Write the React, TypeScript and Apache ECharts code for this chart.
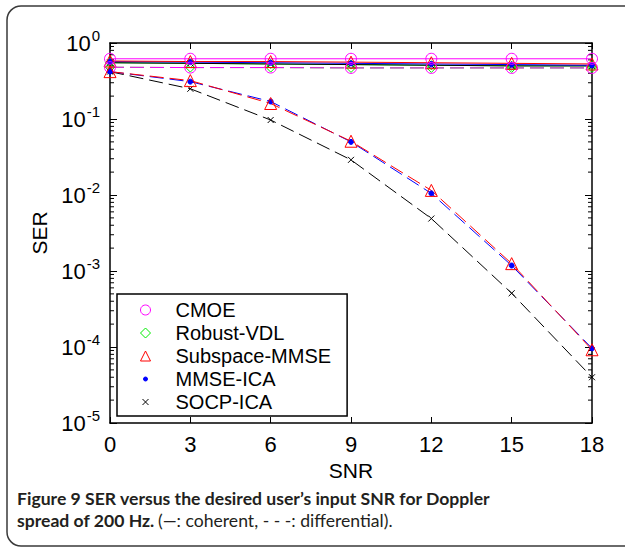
import React, { useEffect, useRef } from "react";
import * as echarts from "echarts";

// SNR (dB) sample points
const snr = [0, 3, 6, 9, 12, 15, 18];

// Coherent detection (solid lines)
const cmoeCoherent = [0.62, 0.62, 0.62, 0.62, 0.62, 0.62, 0.62];
const robustVdlCoherent = [0.55, 0.54, 0.53, 0.52, 0.51, 0.5, 0.5];
const subspaceCoherent = [0.58, 0.57, 0.57, 0.56, 0.55, 0.54, 0.53];
const mmseIcaCoherent = [0.57, 0.56, 0.55, 0.54, 0.53, 0.52, 0.51];
const socpIcaCoherent = [0.55, 0.54, 0.53, 0.52, 0.51, 0.5, 0.5];

// Differential detection (dashed lines)
const cmoeDifferential = [0.48, 0.475, 0.475, 0.47, 0.47, 0.47, 0.47];
const robustVdlDifferential = [0.48, 0.475, 0.475, 0.47, 0.47, 0.47, 0.47];
const subspaceDifferential = [0.42, 0.32, 0.16, 0.051, 0.0115, 0.00125, 0.000092];
const mmseIcaDifferential = [0.42, 0.31, 0.17, 0.05, 0.0105, 0.00118, 0.000096];
const socpIcaDifferential = [0.42, 0.25, 0.097, 0.029, 0.0049, 0.00051, 0.00004];

const legendNames = ["CMOE", "Robust-VDL", "Subspace-MMSE", "MMSE-ICA", "SOCP-ICA"];

// log-axis minor tick values (2..9 x 10^k)
const minorTickValues: number[] = [];
for (let k = -5; k < 0; k++) {
  for (let m = 2; m <= 9; m++) minorTickValues.push(m * Math.pow(10, k));
}

const FONT = "'Liberation Sans', Arial, Helvetica, sans-serif";
const CAPTION_FONT = "Lato, 'Open Sans', sans-serif";
const CROSS = "path://M0,0L10,10M10,0L0,10";
const DOT_ICON = "path://M0,0M10,10M3,5A2,2 0 1,0 7,5A2,2 0 1,0 3,5Z";

type Style = {
  color: string;
  symbol: string;
  size: number;
  hollow: boolean;
};

const styles: Record<string, Style> = {
  CMOE: { color: "#ff00ff", symbol: "circle", size: 11, hollow: true },
  "Robust-VDL": { color: "#00ee00", symbol: "diamond", size: 9, hollow: true },
  "Subspace-MMSE": { color: "#ff0000", symbol: "triangle", size: 12, hollow: true },
  "MMSE-ICA": { color: "#0000ff", symbol: "circle", size: 5, hollow: false },
  "SOCP-ICA": { color: "#000000", symbol: CROSS, size: 6, hollow: false },
};

function lineSeries(name: string, values: number[], dashed: boolean) {
  const s = styles[name];
  return {
    name,
    type: "line",
    data: snr.map((x, i) => [x, values[i]]),
    symbol: s.symbol,
    symbolSize: s.size,
    showAllSymbol: true,
    itemStyle: {
      color: s.hollow ? "transparent" : s.color,
      borderColor: s.color,
      borderWidth: 1,
    },
    lineStyle: {
      color: s.color,
      width: 1,
      type: dashed ? [14, 6] : "solid",
    },
    emphasis: { disabled: true },
    z: 3,
  };
}

export default function App() {
  const ref = useRef<HTMLDivElement>(null);

  useEffect(() => {
    if (!ref.current) return;
    const chart = echarts.init(ref.current, undefined, { renderer: "svg" });

    const yLabel = {
      show: true,
      margin: 10,
      formatter: (v: number) => `{b|10}{s|${Math.round(Math.log10(v))}}`,
      rich: {
        b: { fontSize: 22, fontFamily: FONT, color: "#000" },
        s: { fontSize: 15, fontFamily: FONT, color: "#000", padding: [0, 0, 16, 1] },
      },
    };

    const option: any = {
      animation: false,
      backgroundColor: "#fff",
      grid: { left: 110, top: 43, width: 482, height: 380, containLabel: false },
      xAxis: [
        {
          type: "value",
          min: 0,
          max: 18,
          interval: 3,
          name: "SNR",
          nameLocation: "middle",
          nameGap: 30,
          nameTextStyle: { fontSize: 21, fontFamily: FONT, color: "#000" },
          axisLine: { show: true, onZero: false, lineStyle: { color: "#000", width: 1.5 } },
          axisTick: { show: true, inside: true, length: 6, lineStyle: { color: "#000" } },
          axisLabel: { fontSize: 22, fontFamily: FONT, color: "#000", margin: 10 },
          splitLine: { show: false },
        },
        {
          type: "value",
          position: "top",
          min: 0,
          max: 18,
          interval: 3,
          axisLine: { show: true, onZero: false, lineStyle: { color: "#000", width: 1.5 } },
          axisTick: { show: true, inside: true, length: 6, lineStyle: { color: "#000" } },
          axisLabel: { show: false },
          splitLine: { show: false },
        },
      ],
      yAxis: [
        {
          type: "log",
          logBase: 10,
          min: 1e-5,
          max: 1,
          splitNumber: 5,
          name: "SER",
          nameLocation: "middle",
          nameGap: 54,
          nameTextStyle: { fontSize: 21, fontFamily: FONT, color: "#000" },
          axisLine: { show: true, onZero: false, lineStyle: { color: "#000", width: 1.5 } },
          axisTick: { show: true, inside: true, length: 7, lineStyle: { color: "#000" } },
          axisLabel: yLabel,
          splitLine: { show: false },
        },
        {
          type: "log",
          logBase: 10,
          min: 1e-5,
          max: 1,
          splitNumber: 5,
          position: "right",
          axisLine: { show: true, onZero: false, lineStyle: { color: "#000", width: 1.5 } },
          axisTick: { show: true, inside: true, length: 7, lineStyle: { color: "#000" } },
          axisLabel: { show: false },
          splitLine: { show: false },
        },
      ],
      legend: {
        orient: "vertical",
        left: 117,
        top: 294,
        padding: [6, 16, 4, 23],
        itemWidth: 10,
        itemHeight: 10,
        itemGap: 3,
        borderColor: "#000",
        borderWidth: 1.5,
        backgroundColor: "#fff",
        selectedMode: false,
        formatter: (name: string) => `{n|${name}}`,
        textStyle: {
          rich: { n: { fontSize: 20, fontFamily: FONT, color: "#000", padding: [0, 0, 0, 20] } },
        },
        data: legendNames.map((name) => {
          const s = styles[name];
          let icon = s.symbol;
          if (name === "MMSE-ICA") icon = DOT_ICON;
          if (name === "SOCP-ICA") icon = "path://M0,0M10,10M2,2L8,8M8,2L2,8";
          return {
            name,
            icon,
            itemStyle: {
              color: s.hollow ? "transparent" : s.color,
              borderColor: s.color,
              borderWidth: 1,
            },
          };
        }),
        z: 10,
      },
      graphic: [
        {
          type: "rect",
          shape: { x: 7, y: 6, width: 660, height: 540, r: 14 },
          style: { fill: "none", stroke: "#3a3a3a", lineWidth: 1.5 },
          silent: true,
        },
        {
          type: "text",
          style: {
            x: 17,
            y: 498,
            text: "Figure 9 SER versus the desired user\u2019s input SNR for Doppler",
            font: `bold 17.6px ${CAPTION_FONT}`,
            fill: "#231f20",
            verticalAlign: "middle",
          },
        },
        {
          type: "text",
          style: {
            x: 17,
            y: 520,
            text: "{b|spread of 200 Hz.} {r|(\u2014: coherent, - - -: differential).}",
            verticalAlign: "middle",
            rich: {
              b: { font: `bold 17.6px ${CAPTION_FONT}`, fill: "#231f20" },
              r: { font: `17.6px ${CAPTION_FONT}`, fill: "#231f20" },
            },
          },
        },
      ],
      series: [
        lineSeries("Robust-VDL", robustVdlDifferential, true),
        lineSeries("Robust-VDL", robustVdlCoherent, false),
        lineSeries("SOCP-ICA", socpIcaCoherent, false),
        lineSeries("MMSE-ICA", mmseIcaCoherent, false),
        lineSeries("Subspace-MMSE", subspaceCoherent, false),
        lineSeries("CMOE", cmoeCoherent, false),
        lineSeries("CMOE", cmoeDifferential, true),
        lineSeries("SOCP-ICA", socpIcaDifferential, true),
        lineSeries("MMSE-ICA", mmseIcaDifferential, true),
        lineSeries("Subspace-MMSE", subspaceDifferential, true),
        {
          type: "custom",
          name: "minorTicks",
          silent: true,
          data: minorTickValues.map((v) => [0, v]),
          renderItem: (_p: any, api: any) => {
            const v = api.value(1);
            const l = api.coord([0, v]);
            const r = api.coord([18, v]);
            return {
              type: "group",
              children: [
                {
                  type: "line",
                  shape: { x1: l[0], y1: l[1], x2: l[0] + 4, y2: l[1] },
                  style: { stroke: "#000", lineWidth: 1 },
                },
                {
                  type: "line",
                  shape: { x1: r[0] - 4, y1: r[1], x2: r[0], y2: r[1] },
                  style: { stroke: "#000", lineWidth: 1 },
                },
              ],
            };
          },
          z: 2,
        },
      ],
    };

    chart.setOption(option);
    return () => chart.dispose();
  }, []);

  return (
    <div
      ref={ref}
      style={{ position: "fixed", left: 0, top: 0, width: 625, height: 551 }}
    />
  );
}
